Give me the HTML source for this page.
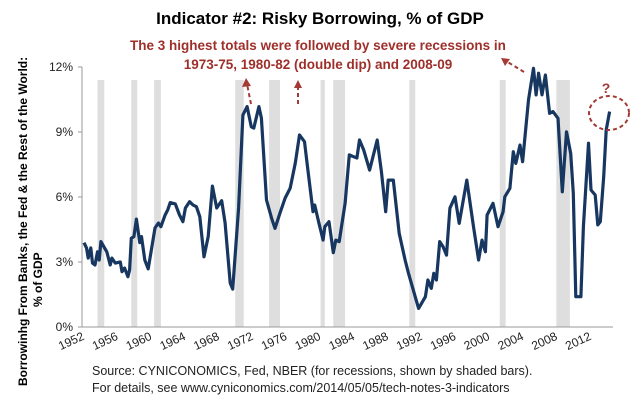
<!DOCTYPE html>
<html><head><meta charset="utf-8"><style>
body{margin:0;background:#fff;}
svg{display:block;font-family:"Liberation Sans",sans-serif;}
</style></head><body>
<svg id="chart" width="640" height="407" viewBox="0 0 640 407">
<text x="320" y="24" text-anchor="middle" font-size="17" font-weight="bold" fill="#000">Indicator #2:  Risky Borrowing, % of GDP</text>
<text x="318" y="50" text-anchor="middle" font-size="13.5" font-weight="bold" fill="#9e2f2a">The 3 highest totals were followed by severe recessions in</text>
<text x="318" y="69" text-anchor="middle" font-size="13.5" font-weight="bold" fill="#9e2f2a">1973-75, 1980-82 (double dip) and 2008-09</text>
<g id="rec"></g>
<g id="axes"></g>
<path id="line" fill="none" stroke="#173760" stroke-width="3.2" stroke-linejoin="round"/>
<g stroke="#a33a35" stroke-width="2" stroke-dasharray="4,3" fill="none">
<line x1="251" y1="104" x2="247" y2="84"/><line x1="298" y1="104" x2="298" y2="86"/><line x1="524" y1="72" x2="506" y2="61"/>
<ellipse cx="609" cy="113" rx="20" ry="17"/>
</g>
<g fill="#a33a35"><polygon points="246,78 242,87 251,86"/><polygon points="298,80 294,88 302,88"/><polygon points="501,58 510,59 505,66"/></g>
<text x="606" y="93" text-anchor="middle" font-size="14" font-weight="bold" fill="#a33a35">?</text>
<text transform="translate(27,386) rotate(-90)" font-size="12" font-weight="bold" fill="#000">Borrowinhg From Banks, the Fed &amp; the Rest of the World:</text>
<text transform="translate(42,307) rotate(-90)" font-size="12" font-weight="bold" fill="#000">% of GDP</text>
<text x="92" y="375" font-size="12.5" fill="#222">Source: CYNICONOMICS, Fed, NBER (for recessions, shown by shaded bars).</text>
<text x="92" y="392" font-size="12.5" fill="#222">For details, see www.cyniconomics.com/2014/05/05/tech-notes-3-indicators</text>
</svg>
<script>
const years=[1952.0,1952.3,1952.5,1952.8,1953.0,1953.3,1953.6,1953.8,1954.0,1954.7,1955.1,1955.3,1955.7,1956.3,1956.5,1956.8,1957.2,1957.4,1957.6,1957.9,1958.2,1958.6,1958.8,1959.2,1959.6,1960.4,1960.8,1961.1,1961.6,1961.9,1962.2,1962.8,1963.3,1963.7,1964.0,1964.5,1964.9,1965.3,1965.7,1966.2,1966.7,1967.2,1967.7,1968.3,1968.7,1969.3,1969.6,1970.3,1970.8,1971.3,1971.8,1972.1,1972.7,1973.0,1973.6,1974.2,1974.6,1975.2,1975.8,1976.4,1977.0,1977.5,1978.1,1978.5,1979.1,1979.3,1979.8,1980.3,1980.5,1981.0,1981.5,1981.8,1982.2,1982.9,1983.4,1983.9,1984.3,1984.6,1985.1,1985.8,1986.7,1987.2,1987.7,1988.0,1988.6,1989.3,1990.0,1990.4,1991.2,1991.6,1992.4,1992.7,1993.1,1993.4,1993.7,1994.1,1994.5,1994.9,1995.3,1995.9,1996.4,1997.3,1998.1,1998.7,1999.1,1999.5,1999.7,2000.4,2001.0,2001.6,2001.8,2002.4,2002.8,2003.1,2003.6,2003.9,2004.6,2005.2,2005.5,2005.8,2006.2,2006.6,2007.1,2007.5,2008.1,2008.6,2009.1,2009.6,2009.9,2010.2,2010.8,2011.1,2011.7,2012.0,2012.5,2012.8,2013.1,2013.5,2013.8,2014.2];
const values=[3.89,3.65,3.18,3.65,2.95,2.86,3.47,3.09,3.94,3.47,2.86,3.18,2.95,3.0,2.55,2.72,2.32,2.63,4.1,4.17,4.98,3.89,4.17,3.09,2.68,4.57,4.8,4.63,5.17,5.4,5.74,5.68,5.17,4.86,5.49,5.78,5.63,5.55,5.09,3.24,4.17,6.5,5.49,5.83,4.8,2.03,1.75,5.49,9.78,10.17,9.24,9.18,10.17,9.64,5.86,5.02,4.55,5.26,5.95,6.41,7.57,8.86,8.55,7.24,5.32,5.63,4.8,4.01,4.63,4.86,3.43,4.01,3.94,5.71,7.94,7.86,7.8,8.63,8.17,7.24,8.63,7.17,5.32,6.78,6.78,4.32,3.09,2.48,1.4,0.86,1.4,2.17,1.78,2.48,2.17,3.94,3.7,3.32,5.48,6.01,4.78,6.78,4.63,3.09,4.01,3.47,5.17,5.71,4.63,5.32,6.01,6.4,8.09,7.55,8.4,7.63,10.48,11.94,10.71,11.71,10.71,11.63,9.86,9.94,9.63,6.24,9.01,8.01,6.17,1.4,1.4,4.63,8.48,6.32,6.09,4.71,4.86,6.94,9.09,9.94];
const recStart=[1953.6,1957.6,1960.3,1969.9,1973.9,1980.0,1981.5,1990.5,2001.2,2007.9];
const recEnd=[1954.4,1958.3,1961.1,1970.9,1975.2,1980.5,1982.9,1991.2,2001.9,2009.5];
const yTicks=[0,3,6,9,12];
const xTicks=[1952,1956,1960,1964,1968,1972,1976,1980,1984,1988,1992,1996,2000,2004,2008,2012];
const NS='http://www.w3.org/2000/svg';
const X=y=>84+(y-1952)*8.45;
const Y=v=>327-v*21.67;
const rec=document.getElementById('rec'),axes=document.getElementById('axes');
function mk(tag,attrs,parent){const e=document.createElementNS(NS,tag);for(const k in attrs)e.setAttribute(k,attrs[k]);parent.appendChild(e);return e;}
recStart.forEach((s,i)=>{
  const r=mk('rect',{x:X(s),y:80,width:X(recEnd[i])-X(s),height:247,fill:'#dedede'},rec);
  
  
});
const ax=mk('path',{d:'M82,67V327H613',stroke:'#999',fill:'none','stroke-width':1},axes);


yTicks.forEach(v=>{
  mk('line',{x1:78,x2:82,y1:Y(v),y2:Y(v),stroke:'#999'},axes);
  const t=mk('text',{x:73,y:Y(v)+4,'text-anchor':'end','font-size':12,fill:'#222'},axes);
  t.textContent=v+'%';
  
  
});
xTicks.forEach(yr=>{
  const t=mk('text',{transform:`translate(${X(yr)+1},339) rotate(-25)`,'text-anchor':'end','font-size':12,fill:'#222'},axes);
  t.textContent=yr;
  
  
});
document.getElementById('line').setAttribute('d',years.map((y,i)=>(i?'L':'M')+X(y).toFixed(1)+','+Y(values[i]).toFixed(1)).join(''));
</script>
</body></html>
